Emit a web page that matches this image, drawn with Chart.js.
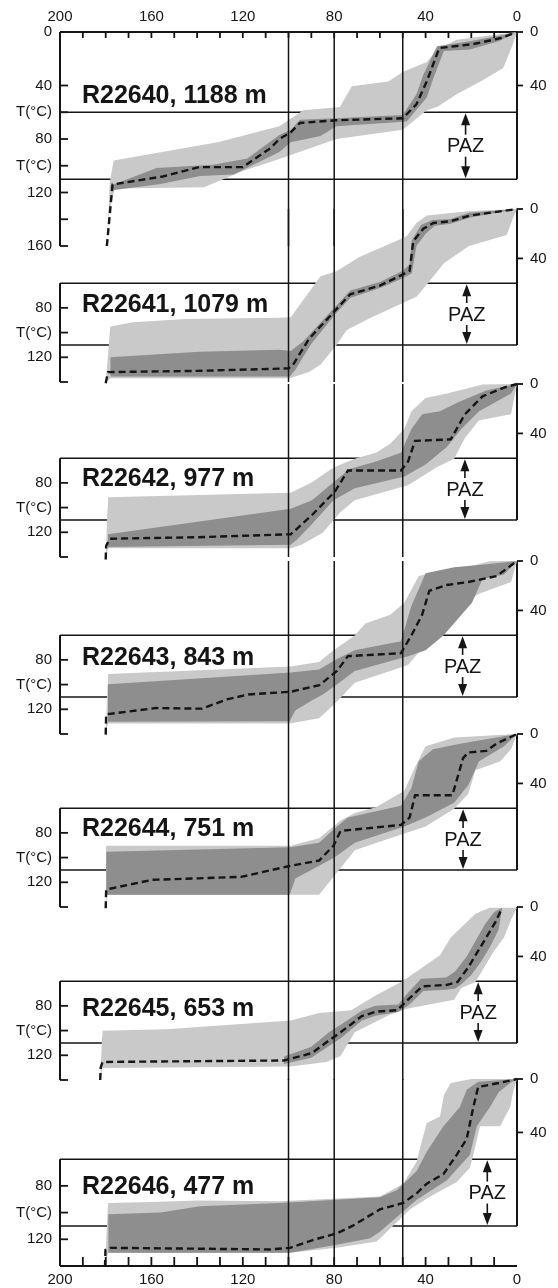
<!DOCTYPE html>
<html>
<head>
<meta charset="utf-8">
<title>Thermal histories R22640-R22646</title>
<script src="https://cdn.jsdelivr.net/npm/chart.js@4.4.1/dist/chart.umd.min.js"></script>
<style>
  html, body { margin: 0; padding: 0; background: #fff; }
  #figure { position: relative; width: 558px; height: 1288px; overflow: hidden; }
  .panel { position: absolute; left: 0; width: 558px; }
</style>
</head>
<body>
<div id="figure"></div>
<script>
/**
 * Modelled time-temperature paths, seven samples stacked top to bottom.
 * x = time (Ma, oldest on the left), y = temperature (degC, cold at top).
 */

// 1. Data
const sampleIds    = ['R22640', 'R22641', 'R22642', 'R22643', 'R22644', 'R22645', 'R22646'];
const sampleDepths = [1188, 1079, 977, 843, 751, 653, 477];   // m
const labelTemps   = [47.5, 77, 76, 78, 76, 82, 80];           // degC where the sample name sits
const pazAges      = [22.5, 22, 22.8, 23.8, 23.6, 17, 13];     // Ma of the PAZ arrow
const pazRange     = [60, 110];                                // degC, partial annealing zone
const pazTextTemp  = 85;
const refAges      = [100, 80, 50];                            // Ma, reference verticals
const labelAge     = 190.4;

// tick values / labels
const firstLeftTicks  = [0, 40, 60, 80, 100, 120, 160];
const firstLeftLabels = ['0', '40', 'T(°C)', '80', 'T(°C)', '120', '160'];
const firstLeftMarks  = [40, 60, 80, 100, 120, 140, 160];
const leftTicks       = [80, 100, 120];
const leftLabels      = ['80', 'T(°C)', '120'];
const leftMarks       = [80, 100, 120, 140];
const rightTicks      = [0, 40];

// [Ma, degC] - best fit path (dashed), good-fit envelope (light), acceptable-fit envelope (dark)
const fit1      = [[179.5,160],[177,114],[155,108],[139,101],[120,101],[108,87],[104,80],[99,75],[95,68],[79,66],[50,64.5],[44,54],[39.5,37],[34,12],[19,9],[7,4.5],[0,0]];
const lightTop1 = [[179.5,160],[178.2,112],[176.5,96],[131,82.5],[104,70.5],[93.5,58.5],[77.5,56],[72.3,40.5],[56.3,37],[49.8,29.7],[39.5,22.5],[35,13],[26.4,5.8],[0,0]];
const lightBot1 = [[179.5,160],[178.5,135],[176,117],[137,116],[127,109],[120,104],[104,95],[79,80],[50,73],[39.5,58.5],[35,56],[26.4,46.5],[15,36],[6,27],[2,10],[0,0]];
const darkTop1  = [[178,115],[157.7,101.7],[133,99.3],[118,94.5],[104,77],[99,73],[95,65.7],[79,64.5],[50,62],[44,46.5],[41,32],[35,10.6],[20.6,7],[6,2.2],[0,0]];
const darkBot1  = [[178,118.5],[156,113.7],[138.7,107.7],[124,106.5],[104,89.7],[99,82.5],[86,77.7],[79,70.5],[48.3,67],[39.5,49],[36.6,34.5],[32,14.2],[20.6,13],[8,7],[0,0]];

const fit2      = [[180,141],[179,132],[140,131],[100,129],[98,126],[91,105],[79,81],[73,69],[60,62],[50,53],[47,50],[45.4,26],[41,16],[36.6,11.3],[29.3,10],[20.6,5.3],[0,0]];
const lightTop2 = [[180,141],[178.2,100],[178,95],[168,91.6],[145,89],[104,88],[99,87.5],[86,54.5],[79,50.4],[69,38.8],[52.6,25.7],[48.3,22],[44,11.3],[39.5,5.3],[20.6,1.7],[0,0]];
const lightBot2 = [[180,141],[178,137],[99.5,137],[91,132],[86,126],[79,110],[74.5,98],[64,88],[50,76],[44,71],[39,60],[32,44],[21,30],[4.5,21],[1.6,6.5],[0,0]];
const darkTop2  = [[178,120],[139,115.6],[104,114],[99,115],[93.5,107],[85,90],[79,78],[73,66],[60,59],[50,50],[47,45],[46,25],[42,13],[37,9],[29,8],[21,3],[0,0]];
const darkBot2  = [[178,135.5],[99.5,135.5],[97,130],[90,109],[79,84],[73,72],[60,64],[50,56],[46,52],[44,30],[40,20],[36,13.5],[29,12],[21,7],[0,0]];

const fit3      = [[180,142],[179.8,131],[178.2,125.2],[140,124],[99,121.6],[89.7,106],[79.6,86.8],[74,70],[50.8,70],[47.7,62.8],[44.6,46],[29,44.8],[22.8,24.5],[15.1,10],[5.7,2.9],[0,0]];
const lightTop3 = [[180,142],[179.2,100],[179,91.6],[99,88],[89.7,79.6],[80.3,67.6],[71,60.4],[61.7,55.6],[55.5,48.4],[49.3,36.5],[46.2,22],[40,11.3],[30.6,7.7],[15.1,0.5],[0,0]];
const lightBot3 = [[180,142],[179,133],[99,133],[94.3,130],[85,120.4],[77.2,103.6],[71,94],[47.7,82],[35.3,67.6],[27.5,60.4],[22.8,43.7],[16.6,29.3],[2.6,24.5],[0,0]];
const darkTop3  = [[179,121.6],[99,101],[89.7,94],[80.3,79.6],[73.3,68.8],[61.7,62.8],[50.8,55.6],[46.2,36.5],[41.5,24.5],[33.7,22],[26,14.9],[13.5,5.3],[0,0]];
const darkBot3  = [[179,131.9],[99,130],[95.9,125.2],[89.7,113.2],[80.3,94],[71,84.4],[49.3,74.8],[40,65.2],[30.6,50.8],[24.4,36.5],[16.6,22],[2.6,7.7],[0,0]];

const fit4      = [[180,140.5],[179.8,124],[178.2,123.7],[158,119],[137.8,119.5],[127,112],[117.6,108],[99,105.8],[86.5,100.5],[78.8,89],[74,77],[50.8,74.6],[46.2,60.2],[41.5,43.4],[38.4,24.2],[30.6,19.4],[21.3,17],[8.9,12.2],[0,0]];
const lightTop4 = [[180,140.5],[179.2,100],[179,91.4],[99,85.4],[86.6,81.8],[80.3,72.2],[71,60.2],[66.4,50.6],[55.5,43.4],[49.3,33.8],[43,12.2],[35.3,8.6],[24.4,6.3],[12,0.2],[0,0]];
const lightBot4 = [[180,140.5],[179,131.5],[99.5,131.5],[86.6,127.3],[79.6,115.3],[71,98.6],[55.5,89],[47.7,84.2],[40,67.4],[32.2,43.4],[16.6,26.6],[2.6,17],[0,0]];
const darkTop4  = [[179,99.8],[99,90.2],[86.6,87.8],[78.8,79.4],[71,72.2],[50.8,65],[46.2,36.2],[40,9.9],[27.5,5],[12,2.4],[0,0]];
const darkBot4  = [[179,130],[99.5,129.7],[97,121],[90,113],[85,108],[79.6,101],[71,89],[47.7,77],[40,72.2],[32.2,60.2],[19.7,33.8],[15.1,14.6],[5.7,11],[0,0]];

const fit5      = [[180,141],[179.8,126],[178.2,125.2],[172,122.8],[159.6,118],[139.4,116.8],[120.7,115.6],[100.5,107.2],[86.6,102.4],[80.3,90.4],[77.2,78.4],[50.8,73.6],[47,67.6],[44.6,49.6],[28.3,49.6],[23.6,19.6],[21.3,14.9],[13.5,13.7],[8.9,7.7],[0,0]];
const lightTop5 = [[180,141],[179.9,95],[179.8,90.4],[99,90.4],[86.6,84.4],[77.2,70],[71,64],[61.7,59.2],[49.3,46],[44.6,26.8],[40,10],[27.5,2.9],[0,0]];
const lightBot5 = [[180,141],[179.5,130],[86.6,130],[77.2,108.4],[71,94],[55.5,84.4],[40,74.8],[27.5,60.4],[21.3,48.4],[18.2,29.3],[7.3,22],[2.6,12.4],[0,0]];
const darkTop5  = [[179.8,95.2],[99,91.6],[86.6,88],[78.8,74.8],[74,67.6],[50.8,58],[46.2,43.7],[43,22],[36.8,12.4],[24.4,7.7],[8.9,2.9],[0,0]];
const darkBot5  = [[179.8,130],[99.5,130],[97,117],[86,106],[80,100],[77.2,96.4],[71,88],[49.3,74.8],[40,67.6],[27.5,55.6],[21.3,41.2],[16.6,22],[5.7,10],[0,0]];

const fit6      = [[182.4,140],[182.2,130],[181.4,125.4],[102,124.2],[89.7,118.2],[81.9,107.4],[77.2,101.4],[67.9,88.3],[61.7,84.7],[52.4,83.5],[47.7,75],[41.5,64.2],[30.6,63],[26,60.6],[21.3,48.7],[16.6,34.3],[9.6,12.7],[6.5,0.7]];
const lightTop6 = [[182.4,140],[181.6,105],[181.4,100.2],[153.4,99],[99,91.9],[86.6,85.8],[72.6,83.5],[61.7,71.4],[50.8,60.6],[43,51],[33.7,39],[29,24.7],[18.2,5.5],[12,0.7],[0,0.7]];
const lightBot6 = [[182.4,140],[181.4,130.2],[99,129],[83.4,125.4],[77.2,120.6],[71,101.4],[55.5,87],[47.7,82.2],[27.5,75],[24.4,65.5],[18.2,60.6],[10.4,36.7],[5.7,24.7],[2.6,10.3],[0,0.7]];
const darkTop6  = [[102,121],[90,113],[82,101],[77,95],[68,84],[62,80],[52,79],[48,70],[42,58],[31,57],[27,52],[22,40],[18,27],[14,14],[10,4],[6.5,0.7]];
const darkBot6  = [[102,127],[90,122],[82,112],[77,106],[68,92],[62,88],[52,85],[47,79],[41,68],[31,67],[27,66],[24,62],[20,55],[16,45],[12,33],[8,18],[6.5,0.7]];

const fit7      = [[180.3,140.8],[180.1,128],[178,126.4],[108,127.6],[99.3,126.4],[89.1,120.4],[78.9,115.6],[71.6,109.6],[60,97.6],[49.8,92.8],[43.9,85.6],[39.5,78.4],[32.2,71.2],[26.4,56.8],[22,44.8],[19.1,20.9],[17,6],[8,3],[0,0]];
const lightTop7 = [[180.3,140.8],[179.2,100],[178.9,92.8],[160,92],[140,91],[104,91.6],[60,88],[49.8,78.4],[43.9,61.7],[42.5,52],[39.5,32.9],[33.7,28],[32,12],[29,3],[20,0],[0,0]];
const lightBot7 = [[180.3,140.8],[179,130],[99.3,130],[79,126.4],[61.4,121.6],[54.1,109.6],[46.8,97.6],[38,88],[26.4,77.2],[20.6,66.4],[19.1,56.8],[16.2,35.3],[7.4,35.3],[3,21],[1.5,8],[0,0]];
const darkTop7  = [[178.9,101.2],[156,100],[138.7,95.2],[104,92.8],[60,88.5],[52.6,83.2],[43.9,68.8],[39.5,54.5],[32.2,35.3],[25,20.9],[22,8],[17,2],[0,0]];
const darkBot7  = [[178.9,130],[99.3,130],[78.9,124],[64.3,119.2],[60,114.4],[43.9,90.4],[30.8,76],[20.6,56.8],[17.6,35.3],[11.8,20.9],[8,10],[3,3],[0,0]];

const fits      = [fit1, fit2, fit3, fit4, fit5, fit6, fit7];
const lightTops = [lightTop1, lightTop2, lightTop3, lightTop4, lightTop5, lightTop6, lightTop7];
const lightBots = [lightBot1, lightBot2, lightBot3, lightBot4, lightBot5, lightBot6, lightBot7];
const darkTops  = [darkTop1, darkTop2, darkTop3, darkTop4, darkTop5, darkTop6, darkTop7];
const darkBots  = [darkBot1, darkBot2, darkBot3, darkBot4, darkBot5, darkBot6, darkBot7];

// 2. Look & layout
const FONT  = "'Liberation Sans', Arial, Helvetica, sans-serif";
const INK   = '#151515';
const LIGHT = '#c9c9c9';
const DARK  = '#8e8e8e';
const zeroRows = [32, 201, 376, 553, 726, 899, 1071];   // page row of 0 degC per panel

Chart.defaults.font.family = FONT;
Chart.defaults.font.size = 15;
Chart.defaults.color = INK;

const pts = arr => arr.map(([x, y]) => ({ x, y }));
const line = (arr, extra) => Object.assign({
    data: pts(arr), pointRadius: 0, borderWidth: 0, fill: false, tension: 0
}, extra);

// 3. Panels
function makePanel(i) {
    const first = i === 0;
    const last = i === sampleIds.length - 1;
    const maxT = first ? 160 : 140;
    const plotH = first ? 222 : 195;
    const padTop = first ? 32 : 14;
    const padBottom = last ? 22 : 14;

    const box = document.createElement('div');
    box.className = 'panel';
    box.style.top = (zeroRows[i] - padTop) + 'px';
    box.style.height = (plotH + padTop + padBottom) + 'px';
    const canvas = document.createElement('canvas');
    box.appendChild(canvas);
    document.getElementById('figure').appendChild(box);

    // frame lines: PAZ bounds, left / right axis, top / bottom axis
    const frame = [
        [[200, pazRange[0]], [0, pazRange[0]]],
        [[200, pazRange[1]], [0, pazRange[1]]],
        [[200, first ? 0 : pazRange[0]], [200, maxT]],
        [[0, 0], [0, pazRange[1]]]
    ];
    if (first) frame.push([[200, 0], [0, 0]]);
    if (last) frame.push([[200, maxT], [0, maxT]]);

    const datasets = [
        line(lightTops[i], { fill: '+1', backgroundColor: LIGHT, order: 5 }),
        line(lightBots[i], { order: 5 }),
        line(darkTops[i], { fill: '+1', backgroundColor: DARK, order: 4 }),
        line(darkBots[i], { order: 4 }),
        line(fits[i], { borderColor: INK, borderWidth: 2.4, borderDash: [7, 4], order: 1, clip: 4 }),
        ...refAges.map(a => line([[a, 0], [a, maxT]], { borderColor: INK, borderWidth: 1.5, order: 2 })),
        ...frame.map((f, k) => line(f, { borderColor: INK, borderWidth: k >= 2 ? 2 : 1.5, order: 9, clip: 6 }))
    ];

    const leftVals = first ? firstLeftTicks : leftTicks;
    const leftLabs = first ? firstLeftLabels : leftLabels;
    const marksAt = first ? firstLeftMarks : leftMarks;

    const marks = {
        id: 'marks' + i,
        afterDatasetsDraw(chart) {
            const { ctx, chartArea: a, scales: { x, y } } = chart;
            const seg = (x1, y1, x2, y2) => { ctx.beginPath(); ctx.moveTo(x1, y1); ctx.lineTo(x2, y2); ctx.stroke(); };
            ctx.save();
            ctx.strokeStyle = INK;
            ctx.fillStyle = INK;
            ctx.lineWidth = 1.8;

            marksAt.forEach(v => { const py = y.getPixelForValue(v); seg(a.left, py, a.left + 8, py); });
            rightTicks.forEach(v => { const py = y.getPixelForValue(v); seg(a.right, py, a.right + 6, py); });
            if (first || last) {
                for (let t = 10; t < 200; t += 10) {
                    const px = x.getPixelForValue(t);
                    if (first) seg(px, a.top, px, a.top + 6);
                    else seg(px, a.bottom, px, a.bottom - 9);
                }
            }

            // PAZ double arrow
            const ax = x.getPixelForValue(pazAges[i]);
            const yT = y.getPixelForValue(pazRange[0]);
            const yB = y.getPixelForValue(pazRange[1]);
            const yM = y.getPixelForValue(pazTextTemp);
            ctx.lineWidth = 1.6;
            seg(ax, yT + 10, ax, yM - 11);
            seg(ax, yM + 11, ax, yB - 10);
            ctx.beginPath(); ctx.moveTo(ax, yT + 1); ctx.lineTo(ax - 4.5, yT + 13); ctx.lineTo(ax + 4.5, yT + 13); ctx.closePath(); ctx.fill();
            ctx.beginPath(); ctx.moveTo(ax, yB - 1); ctx.lineTo(ax - 4.5, yB - 13); ctx.lineTo(ax + 4.5, yB - 13); ctx.closePath(); ctx.fill();
            ctx.font = '20px ' + FONT;
            ctx.textAlign = 'center';
            ctx.textBaseline = 'middle';
            ctx.fillText('PAZ', ax, yM + 1);

            // sample label
            ctx.font = 'bold 25px ' + FONT;
            ctx.textAlign = 'left';
            ctx.fillText(sampleIds[i] + ', ' + sampleDepths[i] + ' m',
                x.getPixelForValue(labelAge), y.getPixelForValue(labelTemps[i]) + 1);
            ctx.restore();
        }
    };

    new Chart(canvas, {
        type: 'line',
        data: { datasets },
        options: {
            responsive: true,
            maintainAspectRatio: false,
            animation: false,
            events: [],
            layout: { padding: { left: 0, right: 0, top: first ? 0 : padTop, bottom: last ? 0 : padBottom } },
            plugins: { legend: { display: false }, tooltip: { enabled: false } },
            scales: {
                x: {
                    type: 'linear', min: 0, max: 200, reverse: true,
                    display: first || last,
                    position: first ? 'top' : 'bottom',
                    grid: { display: false, drawTicks: false },
                    border: { display: false },
                    ticks: { stepSize: 40, padding: first ? 6 : 5, maxRotation: 0, autoSkip: false },
                    afterFit: s => { s.height = first ? padTop : padBottom; }
                },
                y: {
                    type: 'linear', position: 'left', min: 0, max: maxT, reverse: true,
                    grid: { display: false, drawTicks: false },
                    border: { display: false },
                    afterBuildTicks: s => { s.ticks = leftVals.map(v => ({ value: v })); },
                    afterFit: s => { s.width = 60; },
                    ticks: { callback: (v, k) => leftLabs[k], padding: 8, autoSkip: false }
                },
                yR: {
                    type: 'linear', position: 'right', min: 0, max: maxT, reverse: true, display: true,
                    grid: { display: false, drawTicks: false },
                    border: { display: false },
                    afterBuildTicks: s => { s.ticks = rightTicks.map(v => ({ value: v })); },
                    afterFit: s => { s.width = 41; },
                    ticks: { callback: v => String(v), padding: 13, autoSkip: false }
                }
            }
        },
        plugins: [marks]
    });
}

window.onload = () => {
    sampleIds.forEach((id, i) => makePanel(i));
};
</script>
</body>
</html>
